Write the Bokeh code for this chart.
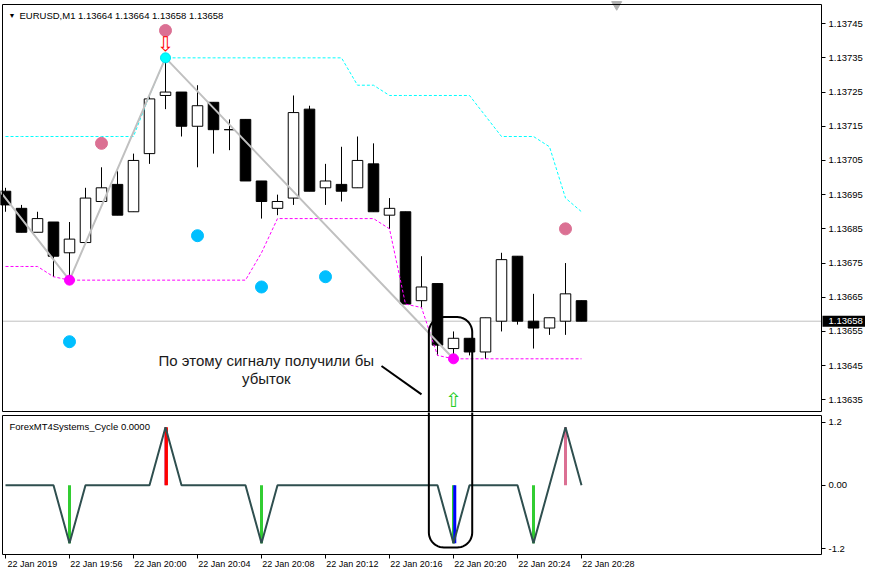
import math
from bokeh.plotting import figure
from bokeh.models import (ColumnDataSource, Range1d, FixedTicker, CustomJSTickFormatter,
                          Label, LinearAxis)
from bokeh.layouts import column
from bokeh.core.properties import value
from bokeh.embed import file_html
from bokeh.resources import INLINE

# ---------------- data ----------------
title_text = "EURUSD,M1  1.13664 1.13664 1.13658 1.13658"
ind_title = "ForexMT4Systems_Cycle 0.0000"
note_line1 = "По этому сигналу получили бы"
note_line2 = "убыток"

opens  = [1.13696, 1.13691, 1.13684, 1.13687, 1.13678, 1.13681, 1.13693, 1.13698, 1.13690, 1.13707,
          1.13724, 1.13725, 1.13715, 1.13722, 1.13714, 1.13717, 1.13699, 1.13691, 1.13694, 1.13720,
          1.13697, 1.13698, 1.13697, 1.13704, 1.13689, 1.13690, 1.13664, 1.13669, 1.13650, 1.13653,
          1.13649, 1.13658, 1.13677, 1.13658, 1.13656, 1.13658, 1.13664]
highs  = [1.13697, 1.13692, 1.13690, 1.13687, 1.13687, 1.13697, 1.13703, 1.13702, 1.13707, 1.13724,
          1.13735, 1.13725, 1.13727, 1.13722, 1.13717, 1.13717, 1.13699, 1.13695, 1.13724, 1.13721,
          1.13704, 1.13709, 1.13712, 1.13710, 1.13694, 1.13690, 1.13677, 1.13669, 1.13655, 1.13653,
          1.13659, 1.13678, 1.13677, 1.13666, 1.13659, 1.13675, 1.13664]
lows   = [1.13690, 1.13684, 1.13684, 1.13671, 1.13670, 1.13681, 1.13693, 1.13689, 1.13690, 1.13704,
          1.13720, 1.13712, 1.13703, 1.13707, 1.13708, 1.13699, 1.13688, 1.13689, 1.13692, 1.13696,
          1.13692, 1.13693, 1.13697, 1.13690, 1.13685, 1.13663, 1.13662, 1.13648, 1.13647, 1.13648,
          1.13647, 1.13655, 1.13657, 1.13650, 1.13654, 1.13654, 1.13658]
closes = [1.13692, 1.13684, 1.13688, 1.13677, 1.13682, 1.13694, 1.13697, 1.13689, 1.13705, 1.13723,
          1.13725, 1.13715, 1.13721, 1.13714, 1.13714, 1.13699, 1.13693, 1.13693, 1.13719, 1.13696,
          1.13699, 1.13696, 1.13705, 1.13690, 1.13691, 1.13663, 1.13668, 1.13651, 1.13653, 1.13649,
          1.13659, 1.13676, 1.13658, 1.13656, 1.13659, 1.13666, 1.13658]
bar_index = list(range(len(opens)))

upper_channel = [1.13712] * 9 + [1.13724] + [1.13735] * 12 + [1.13727, 1.13727] + [1.13724] * 6 + \
                [1.13718, 1.13712, 1.13712, 1.13712, 1.13709, 1.13694, 1.13690]
lower_channel = [1.13674, 1.13674, 1.13674, 1.13671] + [1.13670] * 12 + [1.13678] + [1.13688] * 7 + \
                [1.13685, 1.13663, 1.13662, 1.13648] + [1.13647] * 9

zigzag_idx = [-1, 4, 10, 28]
zigzag_price = [1.13700, 1.13670, 1.13735, 1.13647]

swing_high_idx = [10]
swing_high_price = [1.13735]
swing_low_idx = [4, 28]
swing_low_price = [1.13670, 1.13647]

pink_dot_idx = [6, 10, 35]
pink_dot_price = [1.13710, 1.13743, 1.13685]
blue_dot_idx = [4, 12, 16, 20]
blue_dot_price = [1.13652, 1.13683, 1.13668, 1.13671]

sell_arrow_idx = [10]
sell_arrow_price = [1.13739]
buy_arrow_idx = [28]
buy_arrow_price = [1.13635]

current_price = 1.13658
current_price_text = "1.13658"
price_ticks = [1.13635, 1.13645, 1.13655, 1.13665, 1.13675, 1.13685, 1.13695,
               1.13705, 1.13715, 1.13725, 1.13735, 1.13745]

cycle_values = [0, 0, 0, 0, -1.1, 0, 0, 0, 0, 0, 1.1, 0, 0, 0, 0, 0, -1.1, 0, 0, 0,
                0, 0, 0, 0, 0, 0, 0, 0, -1.1, 0, 0, 0, 0, -1.1, 0, 1.1, 0]
hist_green_idx = [4, 16, 28, 33]
hist_green_val = [-1.1, -1.1, -1.1, -1.1]
hist_blue_idx = [28]
hist_blue_val = [-1.1]
hist_red_idx = [10]
hist_red_val = [1.1]
hist_pink_idx = [10, 35]
hist_pink_val = [1.1, 1.1]
ind_ticks = [-1.2, 0.0, 1.2]

time_tick_idx = [0, 4, 8, 12, 16, 20, 24, 28, 32, 36]
time_tick_labels = ["22 Jan 2019", "22 Jan 19:56", "22 Jan 20:00", "22 Jan 20:04", "22 Jan 20:08",
                    "22 Jan 20:12", "22 Jan 20:16", "22 Jan 20:20", "22 Jan 20:24", "22 Jan 20:28"]

# annotation geometry (bar index / price / indicator units)
note_idx = 16.3
note_price1 = 1.136465
note_price2 = 1.136412
pointer_idx = [23.5, 26.0]
pointer_price = [1.136449, 1.136366]
capsule_left, capsule_right = 26.46, 29.17
capsule_top_price = 1.136592
capsule_bottom_value = -1.18
shift_marker_idx = [38.2]

# ---------------- layout (pixels -> data) ----------------
W = 865
PX_BAR = 16.0
X_START = -5 / PX_BAR                      # canvas x = 0
x_range = Range1d(X_START, X_START + W / PX_BAR)
CHART_L = X_START + 2 / PX_BAR              # left border of the chart
CHART_R = X_START + 821 / PX_BAR            # right border / price axis

H1 = 412
PX_PT = 342000.0                            # pixels per price unit
TOP_PRICE = 1.137506                        # price at the top border (y = 4)
y_main = Range1d(TOP_PRICE - (H1 - 4) / PX_PT, TOP_PRICE + 4 / PX_PT)
MAIN_TOP = TOP_PRICE
MAIN_BOT = TOP_PRICE - 407 / PX_PT
TAG_HALF = 5.5 / PX_PT                      # half height of the price tag box

H2 = 160
PX_IND = 52.7
ZERO_Y = 72.8                               # local pixel of value 0
y_ind = Range1d((ZERO_Y - H2) / PX_IND, ZERO_Y / PX_IND)
IND_TOP = (ZERO_Y - 3) / PX_IND
IND_BOT = (ZERO_Y - 142) / PX_IND
LAB_SHIFT = 1.68

FONT = "Liberation Sans"
FS = "9.5px"


def base_fig(h, yr):
    f = figure(width=W, height=h, x_range=x_range, y_range=yr, output_backend="svg",
               toolbar_location=None, x_axis_location=None, y_axis_location=None,
               min_border=0, min_border_left=0, min_border_right=0, min_border_top=0,
               min_border_bottom=0)
    f.xgrid.visible = False
    f.ygrid.visible = False
    f.outline_line_color = None
    f.background_fill_color = "white"
    f.border_fill_color = "white"
    return f


def price_axis(ticks, formatter, loc):
    return LinearAxis(ticker=FixedTicker(ticks=ticks), formatter=formatter, fixed_location=loc,
                      axis_line_color=None, major_tick_line_color="black", major_tick_in=0,
                      major_tick_out=4, minor_tick_line_color=None, major_label_text_font=FONT,
                      major_label_text_font_size=FS, major_label_text_color="black",
                      major_label_standoff=3)


def borders(f, top, bot):
    f.segment(x0=[CHART_L, CHART_L, CHART_L, CHART_R], y0=[bot, top, bot, bot],
              x1=[CHART_L, CHART_R, CHART_R, CHART_R], y1=[top, top, bot, top],
              line_color="black", line_width=1)


# ---------------- main chart ----------------
p = base_fig(H1, y_main)

p.segment(x0=[CHART_L], y0=[current_price], x1=[CHART_R], y1=[current_price],
          line_color="#C0C0C0", line_width=1)

src = ColumnDataSource(dict(
    x=bar_index, o=opens, h=highs, l=lows, c=closes,
    top=[max(o, c) for o, c in zip(opens, closes)],
    bot=[min(o, c) for o, c in zip(opens, closes)],
    fill=["white" if c > o else "black" for o, c in zip(opens, closes)],
))
p.segment(x0="x", y0="h", x1="x", y1="l", source=src, line_color="black", line_width=1)
p.vbar(x="x", width=0.66, top="top", bottom="bot", source=src, fill_color="fill",
       line_color="black", line_width=1)

p.line(bar_index, upper_channel, line_color="#00FFFF", line_width=1, line_dash="3 2")
p.line(bar_index, lower_channel, line_color="#FF00FF", line_width=1, line_dash="3 2")
p.line(zigzag_idx, zigzag_price, line_color="#C0C0C0", line_width=2)

p.scatter(pink_dot_idx, pink_dot_price, size=12, fill_color="#DB7093", line_color="#DB7093")
p.scatter(blue_dot_idx, blue_dot_price, size=12, fill_color="#00BFFF", line_color="#00BFFF")
p.scatter(swing_high_idx, swing_high_price, size=10, fill_color="#00FFFF", line_color="#00E0F0")
p.scatter(swing_low_idx, swing_low_price, size=10, fill_color="#FF00FF", line_color="#FF00FF")

p.text(sell_arrow_idx, sell_arrow_price, text=["\u21e9"], text_color="red", text_font=value("DejaVu Sans"),
       text_font_size="20px", text_align="center", text_baseline="middle")
p.text(buy_arrow_idx, buy_arrow_price, text=["\u21e7"], text_color="#22CC22", text_font=value("DejaVu Sans"),
       text_font_size="20px", text_align="center", text_baseline="middle")

p.scatter(shift_marker_idx, [MAIN_TOP], marker="inverted_triangle", size=10,
          fill_color="#B0B0B0", line_color="#B0B0B0")

# note
p.text([note_idx], [note_price1], text=[note_line1], text_font=value(FONT), text_font_size="15px",
       text_color="#1a1a1a", text_align="center", text_baseline="middle")
p.text([note_idx], [note_price2], text=[note_line2], text_font=value(FONT), text_font_size="15px",
       text_color="#1a1a1a", text_align="center", text_baseline="middle")
p.line(pointer_idx, pointer_price, line_color="black", line_width=2)

R = 15.0


def corner(cx, cy, a0, a1, sx, sy, n=12):
    xs, ys = [], []
    for i in range(n + 1):
        a = a0 + (a1 - a0) * i / n
        xs.append(cx + R * math.cos(a) / sx)
        ys.append(cy + R * math.sin(a) / sy)
    return xs, ys


far_below = y_main.start - 0.0005
cx_l = capsule_left + R / PX_BAR
cx_r = capsule_right - R / PX_BAR
cy_t = capsule_top_price - R / PX_PT
xa, ya = corner(cx_l, cy_t, math.pi, math.pi / 2, PX_BAR, PX_PT)
xb, yb = corner(cx_r, cy_t, math.pi / 2, 0, PX_BAR, PX_PT)
p.line([capsule_left] + xa + xb + [capsule_right], [far_below] + ya + yb + [far_below],
       line_color="black", line_width=2)

borders(p, MAIN_TOP, MAIN_BOT)

# black box of the current price tag, in the price-scale area
p.quad(left=[CHART_R + 1 / PX_BAR], right=[x_range.end], top=[current_price + TAG_HALF],
       bottom=[current_price - TAG_HALF], fill_color="black", line_color=None)

p.add_layout(Label(x=CHART_L, y=MAIN_TOP, x_offset=6, y_offset=-7, text="\u25bc", text_font=FONT,
                   text_font_size="7px", text_color="black", text_baseline="top"))
p.add_layout(Label(x=CHART_L, y=MAIN_TOP, x_offset=17, y_offset=-5, text=title_text, text_font=FONT,
                   text_font_size=FS, text_color="black", text_baseline="top"))

p.add_layout(price_axis(price_ticks, CustomJSTickFormatter(code="return tick.toFixed(5);"), CHART_R), "right")

tag_axis = price_axis([current_price], CustomJSTickFormatter(args=dict(t=current_price_text), code="return t;"),
                      CHART_R)
tag_axis.major_tick_line_color = None
tag_axis.major_label_text_color = "white"
p.add_layout(tag_axis, "right")

# ---------------- indicator ----------------
q = base_fig(H2, y_ind)

q.segment(x0=hist_pink_idx, y0=[0] * len(hist_pink_idx), x1=hist_pink_idx, y1=hist_pink_val,
          line_color="#DB7093", line_width=3)
q.segment(x0=[i + 0.06 for i in hist_red_idx], y0=[0] * len(hist_red_idx),
          x1=[i + 0.06 for i in hist_red_idx], y1=hist_red_val, line_color="#FF0000", line_width=3)
q.segment(x0=hist_green_idx, y0=[0] * len(hist_green_idx), x1=hist_green_idx, y1=hist_green_val,
          line_color="#32CD32", line_width=3)
q.segment(x0=[i + 0.08 for i in hist_blue_idx], y0=[0] * len(hist_blue_idx),
          x1=[i + 0.08 for i in hist_blue_idx], y1=hist_blue_val, line_color="#0000FF", line_width=3)
q.line(bar_index, cycle_values, line_color="#2F4F4F", line_width=2)

far_above = y_ind.end + 1.0
cy_b = capsule_bottom_value + R / PX_IND
xc, yc = corner(cx_l, cy_b, math.pi, 1.5 * math.pi, PX_BAR, PX_IND)
xd, yd = corner(cx_r, cy_b, 1.5 * math.pi, 2 * math.pi, PX_BAR, PX_IND)
q.line([capsule_left] + xc + xd + [capsule_right], [far_above] + yc + yd + [far_above],
       line_color="black", line_width=2)

borders(q, IND_TOP, IND_BOT)

q.add_layout(Label(x=CHART_L, y=IND_TOP, x_offset=7, y_offset=-5, text=ind_title, text_font=FONT,
                   text_font_size=FS, text_color="black", text_baseline="top"))

q.add_layout(price_axis(ind_ticks, CustomJSTickFormatter(
    code="return Math.abs(tick) < 1e-9 ? '0.00' : tick.toFixed(1);"), CHART_R), "right")

tick_axis = LinearAxis(ticker=FixedTicker(ticks=time_tick_idx), formatter=CustomJSTickFormatter(code="return '';"),
                       fixed_location=IND_BOT, axis_line_color=None, major_tick_line_color="black",
                       major_tick_in=0, major_tick_out=4, minor_tick_line_color=None, major_label_standoff=0)
q.add_layout(tick_axis, "below")

time_axis = LinearAxis(ticker=FixedTicker(ticks=[k + LAB_SHIFT for k in time_tick_idx]),
                       formatter=CustomJSTickFormatter(
                           args=dict(idx=time_tick_idx, labels=time_tick_labels, off=LAB_SHIFT),
                           code="const j = idx.findIndex(v => Math.abs(v + off - tick) < 1e-6);"
                                "return j >= 0 ? labels[j] : '';"),
                       fixed_location=IND_BOT, axis_line_color=None, major_tick_line_color=None,
                       major_tick_in=0, major_tick_out=3, minor_tick_line_color=None,
                       major_label_text_font=FONT, major_label_text_font_size="9px",
                       major_label_standoff=1, major_label_text_color="black")
q.add_layout(time_axis, "below")

layout = column(p, q, spacing=0)
open("out.html", "w").write(file_html(layout, INLINE))
